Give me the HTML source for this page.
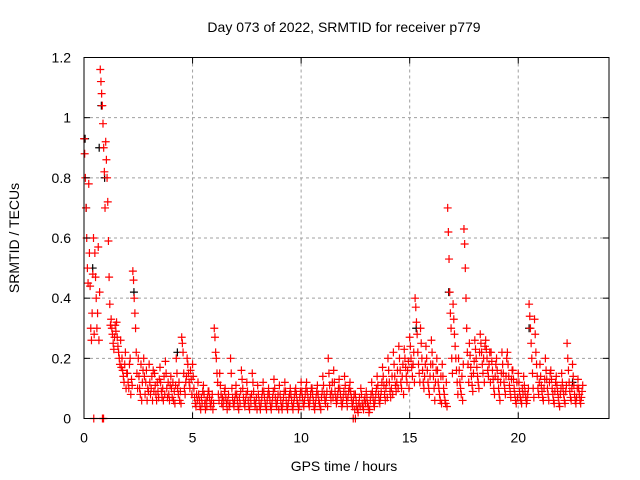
<!DOCTYPE html>
<html><head><meta charset="utf-8"><style>
body{margin:0;background:#fff}
svg{display:block;font-family:"Liberation Sans",sans-serif}
</style></head><body>
<svg id="c" width="640" height="480" xmlns="http://www.w3.org/2000/svg">
<rect width="640" height="480" fill="#fff"/>
<text x="344" y="32" font-size="14" text-anchor="middle">Day 073 of 2022, SRMTID for receiver p779</text>
<text x="344" y="471" font-size="14" text-anchor="middle">GPS time / hours</text>
<text transform="translate(19,238) rotate(-90)" font-size="14" text-anchor="middle">SRMTID / TECUs</text>
<g id="grid"></g><g id="black"></g><g id="red"></g><g id="axes"></g>
</svg>
<script>
const binStart = 0, binWidth = 0.25;
const xTicks = [0,5,10,15,20];
const yTicks = [0,0.2,0.4,0.6,0.8,1,1.2];
const yTickLabels = ["0","0.2","0.4","0.6","0.8","1","1.2"];
const redBins = [
[.93,.88,.8,.7,.6,.5,.45,.78],[.55,.44,.3,.26,.35,.48,.6,.28],[.55,.47,.4,.3,.35,.57,.26,.42],
[1.16,1.12,1.08,1.04,.98,.9,.82,.7],[.92,.86,.8,.72,.59,.47,.38,.31],[.33,.3,.28,.25,.23,.27,.31,.29],
[.32,.27,.24,.22,.2,.18,.26,.17],[.2,.16,.14,.12,.18,.22,.1,.15],[.15,.12,.1,.18,.2,.08,.13,.11],
[.49,.46,.4,.35,.3,.22,.15,.1],[.2,.14,.1,.08,.18,.06,.12,.16],[.2,.14,.08,.12,.16,.06,.1,.09],
[.18,.12,.08,.1,.14,.06,.16,.09],
[.15,.11,.08,.06,.12,.09,.07,.13],[.17,.12,.09,.07,.1,.06,.14,.08],
[.19,.15,.1,.07,.12,.08,.06,.11],[.14,.1,.07,.12,.06,.09,.05,.11],
[.2,.15,.1,.08,.12,.06,.09,.05],[.27,.25,.22,.15,.1,.08,.12,.14],[.2,.18,.15,.12,.1,.16,.13,.08],
[.18,.14,.1,.07,.05,.04,.08,.06],[.12,.08,.06,.04,.03,.07,.05,.09],[.11,.08,.05,.03,.06,.04,.07,.09],
[.09,.07,.05,.04,.06,.08,.03,.05],[.3,.27,.22,.2,.15,.12,.08,.06],[.15,.11,.08,.05,.07,.04,.06,.09],
[.1,.07,.05,.03,.06,.08,.04,.05],[.2,.15,.1,.07,.05,.04,.06,.08],[.11,.08,.06,.04,.03,.07,.05,.09],
[.16,.13,.1,.07,.05,.04,.06,.08],[.12,.09,.06,.04,.03,.07,.05,.08],[.15,.12,.09,.06,.04,.05,.07,.03],
[.11,.08,.06,.04,.03,.05,.07,.09],[.12,.09,.07,.05,.04,.03,.06,.08],[.1,.08,.06,.04,.03,.05,.07,.09],
[.13,.1,.07,.05,.04,.06,.08,.03],[.11,.08,.06,.04,.03,.05,.07,.09],[.12,.09,.06,.04,.03,.05,.07,.08],
[.1,.08,.06,.04,.03,.05,.07,.09],[.1,.08,.06,.05,.03,.04,.07,.09],[.12,.09,.07,.05,.04,.06,.08,.1],
[.12,.09,.07,.05,.04,.06,.08,.1],[.1,.08,.06,.04,.03,.05,.07,.09],[.11,.08,.06,.05,.04,.03,.07,.09],
[.14,.11,.08,.06,.05,.07,.09,.04],[.2,.15,.11,.08,.06,.09,.12,.07],
[.16,.12,.09,.07,.05,.06,.08,.1],[.13,.1,.08,.06,.04,.05,.07,.09],
[.14,.11,.08,.06,.04,.07,.09,.1],
[.12,.09,.07,.05,.04,.06,.08,.03],[.08,.06,.04,.03,.02,.05,.07,.04],[.1,.08,.05,.04,.03,.06,.07,.05],
[.09,.07,.05,.04,.02,.03,.06,.08],[.12,.09,.07,.05,.04,.06,.08,.1],[.14,.11,.08,.06,.05,.07,.09,.12],
[.17,.14,.11,.08,.06,.1,.12,.07],[.2,.16,.12,.09,.07,.1,.14,.08],[.22,.18,.14,.11,.09,.12,.16,.1],
[.24,.2,.16,.12,.1,.14,.18,.08],[.23,.2,.17,.14,.12,.16,.19,.1],[.27,.24,.2,.17,.14,.18,.22,.12],
[.4,.37,.32,.28,.22,.18,.15,.12],[.3,.25,.2,.16,.12,.1,.14,.18],[.24,.2,.16,.12,.1,.08,.14,.18],
[.26,.22,.18,.14,.1,.06,.12,.16],[.2,.16,.12,.1,.08,.06,.14,.05],[.18,.14,.1,.08,.06,.05,.12,.04],
[.7,.62,.53,.42,.35,.3,.2,.15],[.38,.33,.28,.24,.2,.16,.12,.08],[.2,.16,.12,.1,.08,.14,.06,.18],
[.63,.58,.5,.4,.3,.22,.18,.12],[.25,.21,.17,.14,.11,.09,.15,.19],[.26,.23,.2,.17,.14,.12,.1,.22],
[.28,.25,.22,.18,.15,.2,.12,.24],[.26,.23,.2,.16,.14,.18,.22,.12],[.22,.19,.16,.13,.1,.08,.14,.18],
[.2,.16,.13,.1,.08,.06,.12,.15],[.22,.18,.15,.12,.1,.08,.14,.2],[.22,.18,.14,.11,.09,.07,.13,.16],
[.16,.13,.1,.08,.06,.05,.12,.07],[.15,.12,.09,.07,.06,.05,.1,.08],[.14,.11,.09,.07,.05,.06,.08,.1],
[.38,.34,.3,.25,.2,.15,.1,.07],[.33,.28,.22,.18,.14,.1,.08,.12],[.18,.14,.11,.09,.07,.06,.1,.13],
[.2,.16,.13,.1,.08,.06,.12,.15],[.16,.13,.1,.08,.06,.05,.09,.12],[.14,.11,.09,.07,.05,.04,.08,.1],
[.15,.12,.1,.08,.06,.05,.09,.11],[.25,.2,.16,.12,.09,.07,.06,.1],[.18,.14,.11,.08,.06,.05,.07,.1],
[.13,.1,.08,.06,.05,.07,.09,.11]
];
const blackTimes = [0.05,0.1,0.4,0.7,0.8,0.95,2.3,4.3,10.5,15.3,16.8,20.5,22.5];
const blackValues = [0.93,0.7,0.5,0.9,1.04,0.8,0.42,0.22,0.1,0.3,0.42,0.3,0.12];
const zeroTimes = [0.45,0.85,0.9,12.4,12.5];

const L=84,R=609,T=57.5,B=418.5,XMAX=24.18,YMAX=1.2;
const X=h=>L+h/XMAX*(R-L), Y=v=>B-v/YMAX*(B-T);
const NS="http://www.w3.org/2000/svg";
function mk(t,a,p){const e=document.createElementNS(NS,t);for(const k in a)e.setAttribute(k,a[k]);p.appendChild(e);return e;}
const grid=document.getElementById('grid'),axes=document.getElementById('axes');
yTicks.forEach((v,i)=>{
  if(v>0&&v<YMAX){const g=mk('line',{x1:L,x2:R,y1:Y(v),y2:Y(v),stroke:'#a0a0a0','stroke-dasharray':'3,3'},grid);
  
  }
  mk('line',{x1:L,x2:L+6,y1:Y(v),y2:Y(v),stroke:'#000'},axes);
  mk('line',{x1:R,x2:R-6,y1:Y(v),y2:Y(v),stroke:'#000'},axes);
  const t=mk('text',{x:L-13,y:Y(v)+5,'font-size':14,'text-anchor':'end'},axes);t.textContent=yTickLabels[i];
  
  
});
xTicks.forEach(h=>{
  if(h>0){const g=mk('line',{x1:X(h),x2:X(h),y1:T,y2:B,stroke:'#a0a0a0','stroke-dasharray':'3,3'},grid);
  
  }
  mk('line',{x1:X(h),x2:X(h),y1:B,y2:B-6,stroke:'#000'},axes);
  mk('line',{x1:X(h),x2:X(h),y1:T,y2:T+6,stroke:'#000'},axes);
  const t=mk('text',{x:X(h),y:B+24,'font-size':14,'text-anchor':'middle'},axes);t.textContent=h;
  
  
});
const fr=mk('rect',{x:L,y:T,width:R-L,height:B-T,fill:'none',stroke:'#000'},axes);


function plus(x,y,col,p){const d=`M${x-4},${y}h8M${x},${y-4}v8`;return mk('path',{d:d,stroke:col,'stroke-width':1.2,fill:'none'},p);}
const blk=document.getElementById('black'),red=document.getElementById('red');
blackTimes.forEach((t,i)=>{const e=plus(X(t),Y(blackValues[i]),'#000',blk);
  
  });
redBins.forEach((vals,b)=>{vals.forEach((v,j)=>{
  const t=binStart+b*binWidth+j*binWidth/vals.length;
  const e=plus(X(t),Y(v),'#ff0000',red);
  
  
});});
zeroTimes.forEach(t=>{const e=plus(X(t),Y(0),'#ff0000',red);
  
  });
</script>
</body></html>
